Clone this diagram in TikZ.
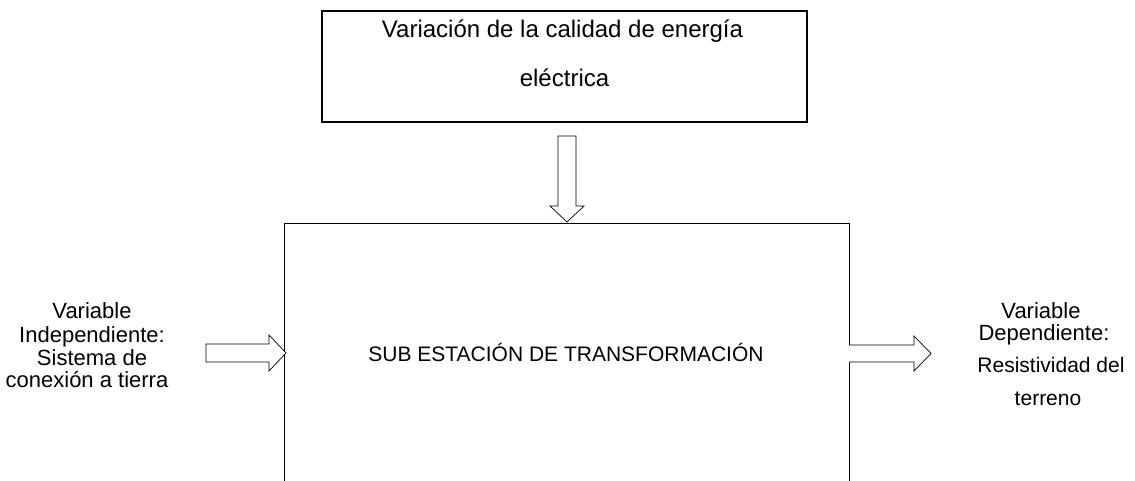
\documentclass[tikz,border=0pt]{standalone}
\usepackage{fontspec}
\setmainfont{Liberation Sans}
\begin{document}
\begin{tikzpicture}[x=1pt,y=-1pt,
  txt/.style={inner sep=0pt,anchor=base},
  blockarrow/.style={draw=black,line width=0.7pt,fill=white,line join=miter},
  frame/.style={draw=black,line width=0.8pt}]
\useasboundingbox (0,0) rectangle (1135,481);
% top box
\node[draw=black,line width=2pt,minimum width=485pt,minimum height=111pt,inner sep=0pt] (topbox) at (564.5,66.5) {};
\node[txt,font=\fontsize{24}{28}\selectfont] (t1) at (562.5,38) {Variación de la calidad de energía};
\node[txt,font=\fontsize{24}{28}\selectfont] (t2) at (564.5,87) {eléctrica};
% big box (open at bottom)
\coordinate (bbl) at (284,481);
\coordinate (btl) at (284,223);
\coordinate (btr) at (849,223);
\coordinate (bbr) at (849,481);
\draw[frame] (bbl) -- (btl) -- (btr) -- (bbr);
\node[txt,font=\fontsize{21}{25}\selectfont] (mid) at (566,361) {SUB ESTACIÓN DE TRANSFORMACIÓN};
% down arrow
\draw[blockarrow] (558,136) -- (576,136) -- (576,206) -- (584,206) -- (567,222) -- (550,206) -- (558,206) -- cycle;
% left arrow
\draw[blockarrow] (206,344) -- (269,344) -- (269,335) -- (286,353) -- (269,371) -- (269,362) -- (206,362) -- cycle;
% right arrow
\draw[blockarrow] (849,345) -- (914,345) -- (914,336) -- (931,353.5) -- (914,371) -- (914,362) -- (849,362);
% left text
\node[txt,font=\fontsize{22}{26}\selectfont] (l1) at (92,318) {Variable};
\node[txt,font=\fontsize{22}{26}\selectfont] (l2) at (92,342) {Independiente:};
\node[txt,font=\fontsize{22}{26}\selectfont] (l3) at (92,365) {Sistema de};
\node[txt,font=\fontsize{22}{26}\selectfont] (l4) at (87,387) {conexión a tierra};
% right text
\node[txt,font=\fontsize{22}{26}\selectfont] (r1) at (1041,318) {Variable};
\node[txt,font=\fontsize{22}{26}\selectfont] (r2) at (1044,340) {Dependiente:};
\node[txt,font=\fontsize{21}{25}\selectfont] (r3) at (1051,372) {Resistividad del};
\node[txt,font=\fontsize{21}{25}\selectfont] (r4) at (1048,405) {terreno};
\end{tikzpicture}
\end{document}
